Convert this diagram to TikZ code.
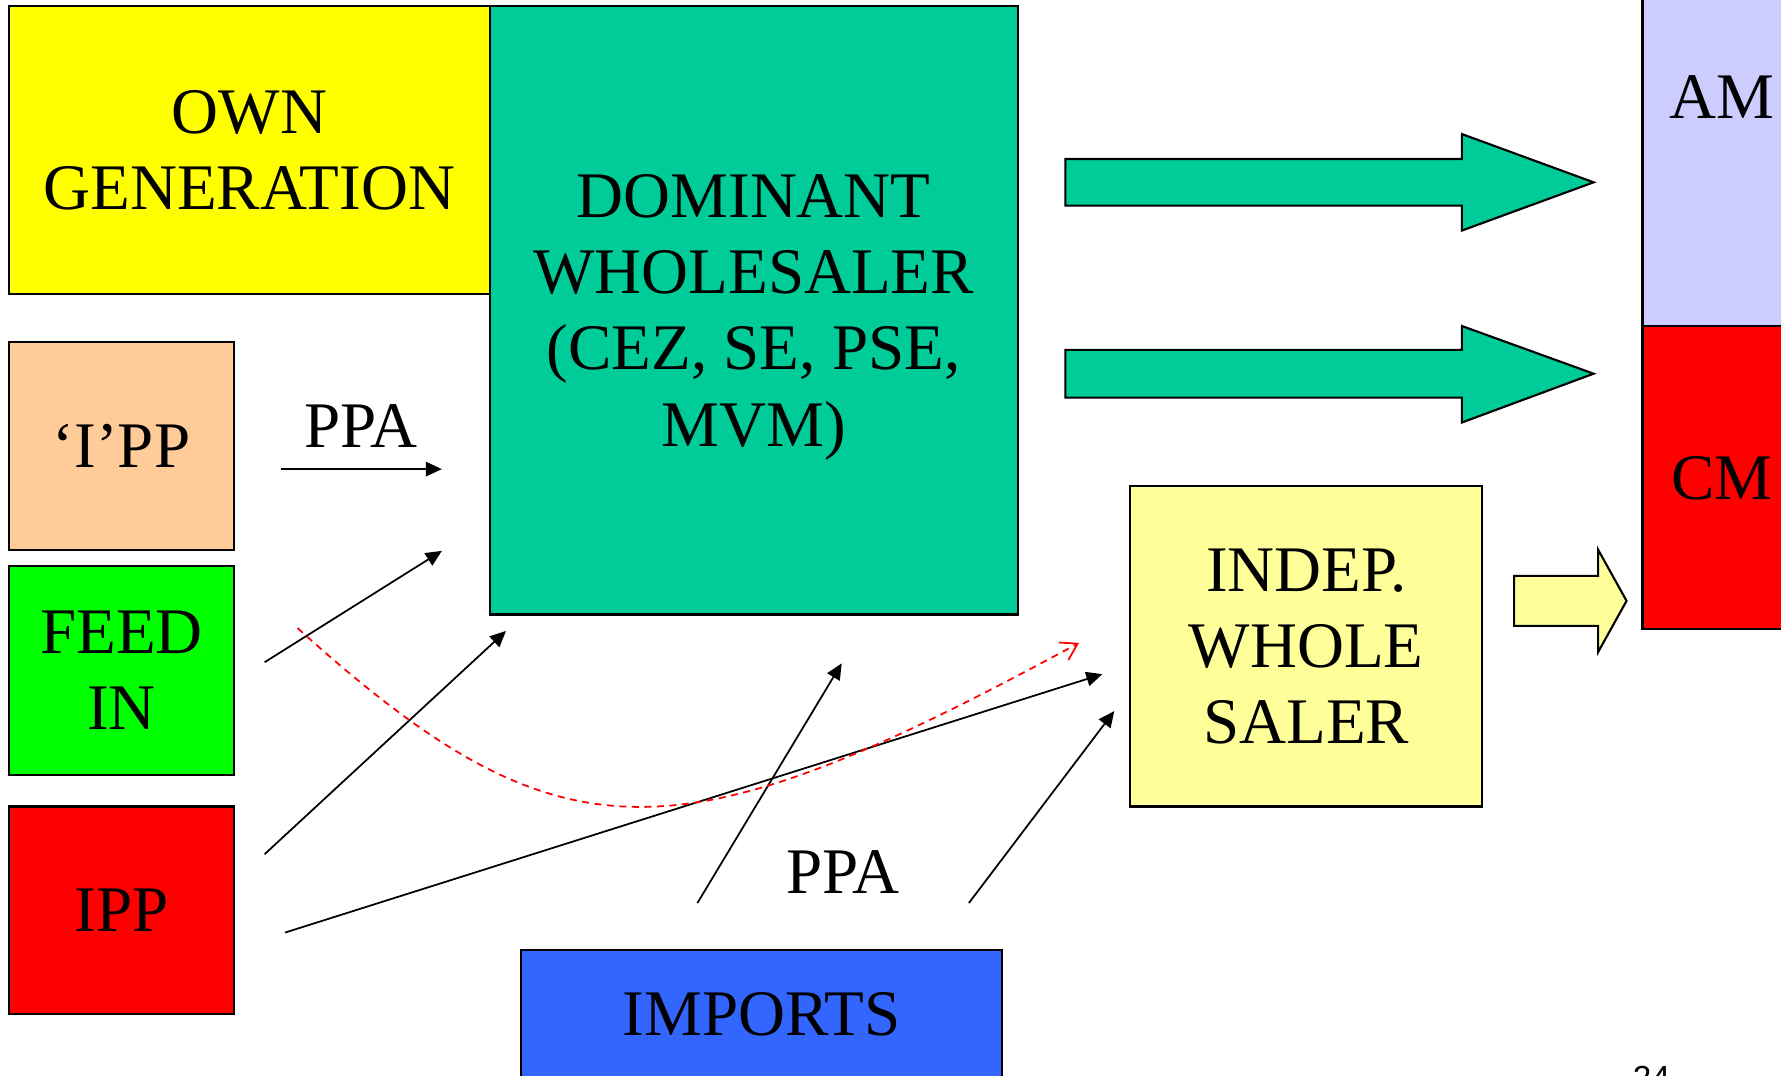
\documentclass[tikz,border=0pt]{standalone}
\usepackage{fontspec}
\setmainfont{Liberation Serif}
\newfontfamily\pagefont{Liberation Sans}
\usepackage{xcolor}
\usetikzlibrary{arrows.meta,positioning}
\newlength\px
\setlength\px{0.11358mm}
\definecolor{ownyellow}{HTML}{FFFF00}
\definecolor{domteal}{HTML}{00CC99}
\definecolor{ippeach}{HTML}{FFCC99}
\definecolor{feedgreen}{HTML}{00FF00}
\definecolor{ippred}{HTML}{FF0000}
\definecolor{impblue}{HTML}{3366FF}
\definecolor{indyellow}{HTML}{FFFF99}
\definecolor{amlilac}{HTML}{CCCCFF}
\tikzstyle{market box}=[
    draw = black,
    line width = 0.6pt,
    rectangle,
    align = center,
    inner sep = 0pt,
    outer sep = 0pt,
    text depth = 0pt,
    font = \fontsize{18.5}{21.7}\selectfont
]

\begin{document}
\begin{tikzpicture}[x=\px, y=-\px,
    flow/.style = {line width=0.5pt, -{Triangle[length=1.6mm, width=1.45mm]}},
    fat arrow/.style = {draw, line width=0.6pt, line join=miter},
    label/.style = {inner sep=0pt, text depth=0pt, font=\fontsize{18.5}{21.7}\selectfont}]
        \useasboundingbox (0,0) rectangle (1568,947);
        \clip (0,0) rectangle (1568,947);

        \node[market box, fill=ownyellow, minimum width={423*\px}, minimum height={254*\px}] (own) at (219.5,132) {OWN\\GENERATION};
        \node[market box, fill=domteal, minimum width={465*\px}, minimum height={536*\px}] (dom) at (663.5,273) {DOMINANT\\WHOLESALER\\(CEZ, SE, PSE,\\MVM)};
        \node[market box, fill=ippeach, minimum width={198*\px}, minimum height={183*\px}] (ippq) at (107,392.5) {‘I’PP};
        \node[market box, fill=feedgreen, minimum width={198*\px}, minimum height={184*\px}] (feed) [below=1.59mm of ippq] {FEED\\IN};
        \node[market box, fill=ippred, minimum width={198*\px}, minimum height={183*\px}] (ipp) [below=3.18mm of feed] {IPP};
        \node[market box, fill=impblue, minimum width={423*\px}, minimum height={114*\px}] (imports) at (670.5,893) {IMPORTS};
        \node[market box, fill=indyellow, minimum width={310*\px}, minimum height={282*\px}] (indep) at (1150,569) {INDEP.\\WHOLE\\SALER};
        \node[market box, fill=amlilac, minimum width={140*\px}, minimum height={404*\px}] (am) at (1516,85) {AM};
        \node[market box, fill=ippred, minimum width={140*\px}, minimum height={267*\px}] (cm) [below=0pt of am] {CM};

        % big arrows to the markets
        \draw[fat arrow, fill=domteal] (938,140) -- (1287,140) -- (1287,118) -- (1403,160.5) -- (1287,203) -- (1287,181) -- (938,181) -- cycle;
        \draw[fat arrow, fill=domteal] (938,308) -- (1287,308) -- (1287,287) -- (1403,329) -- (1287,372) -- (1287,350) -- (938,350) -- cycle;
        \draw[fat arrow, fill=indyellow] (1333,507) -- (1407,507) -- (1407,484) -- (1432,529) -- (1407,574) -- (1407,551) -- (1333,551) -- cycle;

        \coordinate (ppa tail) at (247,413);
        \coordinate (ppa head) at (389,413);
        \coordinate (feed tail) at (233,583);
        \coordinate (feed head) at (389,485);
        \coordinate (ipp tail) at (233,752);
        \coordinate (ipp head) at (445.5,555.5);
        \coordinate (ipp2 tail) at (251,821);
        \coordinate (ipp2 head) at (970.5,593.5);
        \coordinate (imp tail) at (614,795);
        \coordinate (imp head) at (741,584);
        \coordinate (imp2 tail) at (853,795);
        \coordinate (imp2 head) at (981,626);
        \coordinate (red tail) at (262,553);
        \coordinate (red head) at (950,566);

        \node[label] (ppa1) at (318,375) {PPA};
        \node[label] (ppa2) at (742,768) {PPA};

        \draw[flow] (ppa tail) -- (ppa head);
        \draw[flow] (feed tail) -- (feed head);
        \draw[flow] (ipp tail) -- (ipp head);
        \draw[flow] (ipp2 tail) -- (ipp2 head);
        \draw[flow] (imp tail) -- (imp head);
        \draw[flow] (imp2 tail) -- (imp2 head);
        \draw[red, line width=0.5pt, dash pattern=on 0.7mm off 0.55mm, -{Straight Barb[length=1.6mm, width=2mm]}] (red tail) .. controls (495,763) and (595,758) .. (red head);

        \node[inner sep=0pt, anchor=base, font=\pagefont\fontsize{9.5}{11}\selectfont] (page) at (1454,959) {24};
    \end{tikzpicture}
\end{document}
